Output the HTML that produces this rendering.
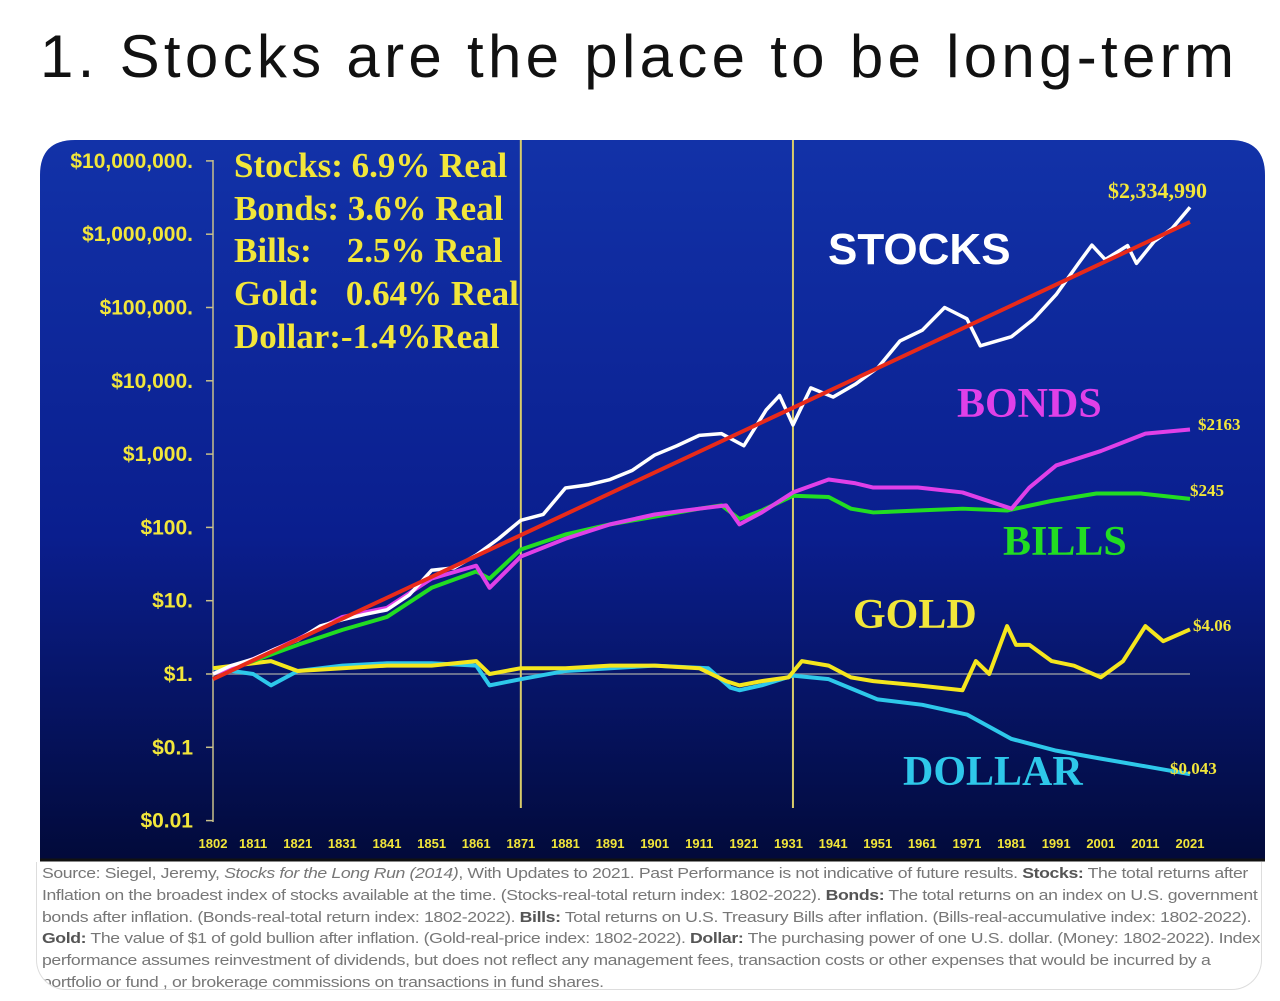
<!DOCTYPE html>
<html><head><meta charset="utf-8"><style>
body{margin:0;width:1280px;height:1001px;background:#fff;overflow:hidden;font-family:"Liberation Sans",sans-serif;position:relative}
#title{position:absolute;left:40px;top:22px;font-size:60px;color:#111;white-space:nowrap;letter-spacing:4.3px}
#foot{position:absolute;left:36px;top:862px;width:1226px;height:128px;border:1px solid #ddd;border-top:none;border-radius:0 0 30px 30px;color:#777;box-sizing:border-box;overflow:hidden}
#foot div{font-size:14.3px;line-height:21.8px;padding:2px 0 0 4px;white-space:nowrap;transform:scaleX(1.235);transform-origin:0 0;letter-spacing:-0.3px}
#foot b{color:#555}
svg{position:absolute;left:0;top:0}
</style></head><body>
<div id="title">1. Stocks are the place to be long-term</div>
<svg id="chart" width="1280" height="870">
<defs><linearGradient id="bg" x1="0" y1="0" x2="0" y2="1"><stop offset="0" stop-color="#1232a8"/><stop offset="0.55" stop-color="#0a1e8e"/><stop offset="1" stop-color="#020a3a"/></linearGradient></defs>
<path d="M40,860 L40,175 Q40,140 75,140 L1230,140 Q1265,140 1265,175 L1265,860 Z" fill="url(#bg)"/>
<line x1="40" y1="860" x2="1265" y2="860" stroke="#111" stroke-width="3"/>
<g id="g"></g>
</svg>
<div id="foot"><div>Source: Siegel, Jeremy, <i>Stocks for the Long Run (2014)</i>, With Updates to 2021. Past Performance is not indicative of future results. <b>Stocks:</b> The total returns after<br>Inflation on the broadest index of stocks available at the time. (Stocks-real-total return index: 1802-2022). <b>Bonds:</b> The total returns on an index on U.S. government<br>bonds after inflation. (Bonds-real-total return index: 1802-2022). <b>Bills:</b> Total returns on U.S. Treasury Bills after inflation. (Bills-real-accumulative index: 1802-2022).<br><b>Gold:</b> The value of $1 of gold bullion after inflation. (Gold-real-price index: 1802-2022). <b>Dollar:</b> The purchasing power of one U.S. dollar. (Money: 1802-2022). Index<br>performance assumes reinvestment of dividends, but does not reflect any management fees, transaction costs or other expenses that would be incurred by a<br>portfolio or fund , or brokerage commissions on transactions in fund shares.</div></div>
<script>
const xTicks=[1802,1811,1821,1831,1841,1851,1861,1871,1881,1891,1901,1911,1921,1931,1941,1951,1961,1971,1981,1991,2001,2011,2021];
const yTicks=[0.01,0.1,1,10,100,1000,10000,100000,1000000,10000000];
const yLabels=["$0.01","$0.1","$1.","$10.","$100.","$1,000.","$10,000.","$100,000.","$1,000,000.","$10,000,000."];
const stockYears=[1802,1806,1811,1816,1821,1826,1831,1836,1841,1846,1851,1856,1861,1866,1871,1876,1881,1886,1891,1896,1901,1906,1911,1916,1921,1926,1929,1932,1936,1941,1946,1951,1956,1961,1966,1971,1974,1981,1986,1991,1996,1999,2002,2007,2009,2013,2017,2021];
const stockVals=[1,1.3,1.6,2.2,2.9,4.5,5.5,6.5,7.5,12,26,28,42,70,125,150,345,380,450,600,970,1300,1800,1900,1300,4000,6300,2500,8000,6000,9000,15000,35000,49000,100000,70000,30000,40000,70000,150000,400000,710000,450000,700000,400000,800000,1200000,2334990];
const bondYears=[1802,1811,1821,1831,1841,1851,1861,1864,1871,1881,1891,1901,1911,1917,1920,1925,1932,1940,1946,1950,1960,1970,1981,1985,1991,2001,2011,2021];
const bondVals=[1,1.6,3,6,8,20,30,15,40,70,110,150,180,200,110,160,300,450,400,350,350,300,180,350,700,1100,1900,2163];
const billYears=[1802,1811,1821,1831,1841,1851,1861,1864,1871,1881,1891,1901,1911,1916,1920,1925,1932,1940,1945,1950,1960,1970,1980,1990,2000,2010,2021];
const billVals=[1,1.5,2.5,4,6,15,25,20,50,80,110,140,180,200,130,170,270,260,180,160,170,180,170,230,290,290,245];
const goldYears=[1802,1815,1821,1831,1841,1851,1861,1864,1871,1881,1891,1901,1911,1917,1920,1925,1931,1934,1940,1945,1950,1960,1970,1973,1976,1980,1982,1985,1990,1995,2001,2006,2011,2015,2021];
const goldVals=[1.2,1.5,1.1,1.2,1.3,1.3,1.5,1.0,1.2,1.2,1.3,1.3,1.2,0.8,0.7,0.8,0.9,1.5,1.3,0.9,0.8,0.7,0.6,1.5,1.0,4.5,2.5,2.5,1.5,1.3,0.9,1.5,4.5,2.8,4.06];
const dollarYears=[1802,1811,1815,1821,1831,1841,1851,1861,1864,1871,1881,1891,1901,1913,1918,1920,1925,1932,1940,1946,1951,1961,1971,1981,1991,2001,2011,2021];
const dollarVals=[1.2,1.0,0.7,1.1,1.3,1.4,1.4,1.3,0.7,0.85,1.1,1.2,1.3,1.2,0.65,0.6,0.7,0.95,0.85,0.6,0.45,0.38,0.28,0.13,0.09,0.07,0.055,0.043];
const trendYears=[1802,2021];
const trendVals=[0.85,1470000];
const markerYears=[1871,1932];

const NS="http://www.w3.org/2000/svg";
const g=document.getElementById('g');
const X=y=>213+(y-1802)*(1190-213)/219;
const Y=v=>674-Math.log10(v)*73.3;
function mk(t,a){const e=document.createElementNS(NS,t);for(const k in a)e.setAttribute(k,a[k]);g.appendChild(e);return e;}
const YEL="#f2e63a";
let ax=mk('line',{x1:213,y1:160,x2:213,y2:822,stroke:"#c8c08a","stroke-width":1.5});


yTicks.forEach((v,i)=>{
 mk('line',{x1:206,x2:213,y1:Y(v),y2:Y(v),stroke:"#c8c08a","stroke-width":1.5});
 const t=mk('text',{x:193,y:Y(v)+7,"text-anchor":"end",fill:YEL,"font-size":21,"font-weight":"bold","font-family":"Liberation Sans, sans-serif"});
 t.textContent=yLabels[i];
 
 
});
xTicks.forEach(yr=>{
 const t=mk('text',{x:X(yr),y:848,"text-anchor":"middle",fill:YEL,"font-size":13,"font-weight":"bold","font-family":"Liberation Sans, sans-serif"});
 t.textContent=yr;
 
 
});
mk('line',{x1:213,x2:1190,y1:Y(1),y2:Y(1),stroke:"#8a8f9c","stroke-width":1.5});
markerYears.forEach(yr=>{
 const l=mk('line',{x1:X(yr),x2:X(yr),y1:140,y2:808,stroke:"#d8cc6a","stroke-width":2});
 
 
});
function series(ys,vs,col,w,name){
 const p=mk('polyline',{points:ys.map((yr,i)=>X(yr)+","+Y(vs[i])).join(" "),fill:"none",stroke:col,"stroke-width":w,"stroke-linejoin":"round"});
 
 
}
series(dollarYears,dollarVals,"#2ec8ea",4,'dollar-line');
series(goldYears,goldVals,"#f5e61e",4,'gold-line');
series(billYears,billVals,"#22dd22",4,'bills-line');
series(bondYears,bondVals,"#e040e8",4,'bonds-line');
series(stockYears,stockVals,"#ffffff",3.5,'stocks-line');
series(trendYears,trendVals,"#e82a1a",4,'stocks-trend-line');
function txt(s,x,y,col,size,fam,name){
 const t=mk('text',{x:x,y:y,fill:col,"font-size":size,"font-weight":"bold","font-family":fam});
 t.setAttribute('style','white-space:pre');
 t.textContent=s;
 
 
}
const SER="Liberation Serif, serif";
txt("Stocks: 6.9% Real",234,177,YEL,35,SER,'stat-stocks');
txt("Bonds: 3.6% Real",234,220,YEL,35,SER,'stat-bonds');
txt("Bills:    2.5% Real",234,262,YEL,35,SER,'stat-bills');
txt("Gold:   0.64% Real",234,305,YEL,35,SER,'stat-gold');
txt("Dollar:-1.4%Real",234,348,YEL,35,SER,'stat-dollar');
txt("STOCKS",828,264,"#ffffff",44,"Liberation Sans, sans-serif",'stocks-label');
txt("BONDS",957,417,"#e040e8",42,SER,'bonds-label');
txt("BILLS",1003,555,"#22dd22",42,SER,'bills-label');
txt("GOLD",853,628,YEL,42,SER,'gold-label');
txt("DOLLAR",903,785,"#2ec8ea",42,SER,'dollar-label');
txt("$2,334,990",1108,198,YEL,22,SER,'stocks-end-value');
txt("$2163",1198,430,YEL,17,SER,'bonds-end-value');
txt("$245",1190,496,YEL,17,SER,'bills-end-value');
txt("$4.06",1193,631,YEL,17,SER,'gold-end-value');
txt("$0.043",1170,774,YEL,17,SER,'dollar-end-value');
</script>
</body></html>
